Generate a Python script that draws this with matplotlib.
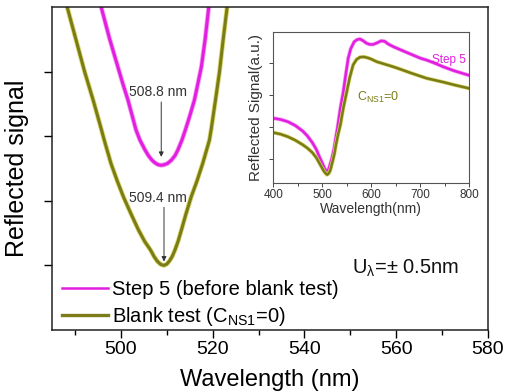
import matplotlib
matplotlib.use("Agg")
import matplotlib.pyplot as plt
import matplotlib.patheffects as pe
from matplotlib.ticker import MultipleLocator, NullFormatter
from matplotlib.lines import Line2D

plt.rcParams['font.family'] = ['Liberation Sans', 'DejaVu Sans']
plt.rcParams['mathtext.fontset'] = 'custom'
plt.rcParams['mathtext.rm'] = 'Liberation Sans'
plt.rcParams['mathtext.it'] = 'Liberation Sans:italic'
plt.rcParams['mathtext.bf'] = 'Liberation Sans:bold'

# ---- main panel data (zoom on resonance dip) ----
step5_wl = [495.2, 495.71, 497.5, 499.32, 500.4, 501.55, 502.5, 503.29, 504.16, 505.25, 506.0,
            506.78, 507.4, 508.1, 508.8, 509.5, 510.2, 511.02, 511.8, 512.44, 513.31, 514.07,
            515.0, 516.03, 516.8, 517.56, 518.4, 519.15, 519.6]
step5_sig = [5.25, 5.00, 4.52, 4.08, 3.82, 3.56, 3.31, 3.10, 2.94, 2.79, 2.70,
             2.63, 2.59, 2.56, 2.55, 2.56, 2.58, 2.63, 2.70, 2.79, 2.94, 3.10,
             3.31, 3.56, 3.82, 4.08, 4.52, 5.00, 5.25]

blank_wl = [487.5, 488.30, 490.2, 492.1, 494.0, 495.77, 496.38, 497.84, 499.2, 500.57, 502.2,
            503.83, 505.2, 506.45, 507.3, 508.0, 508.7, 509.4, 510.0, 510.6, 511.2, 511.8,
            512.5, 513.2, 514.2, 515.32, 516.6, 517.84, 519.30, 519.67, 520.6, 521.5, 522.3,
            523.16, 523.7]
blank_sig = [5.25, 5.00, 4.50, 4.00, 3.55, 3.10, 2.94, 2.58, 2.31, 2.06, 1.80,
             1.55, 1.37, 1.24, 1.13, 1.06, 1.015, 1.00, 1.02, 1.07, 1.14, 1.24,
             1.38, 1.55, 1.80, 2.06, 2.31, 2.58, 2.94, 3.10, 3.55, 4.00, 4.50,
             5.00, 5.25]

# ---- inset data (full spectrum) ----
inset_step5_wl = [400, 415, 430, 445, 460, 470, 480, 488, 495, 500, 505, 509, 513, 517, 520,
                  524, 527, 532, 537, 543, 548, 553, 558, 565, 571, 577, 583, 590, 597, 604,
                  612, 620, 627, 635, 645, 660, 680, 700, 713, 730, 747, 770, 798, 800]
inset_step5_sig = [2.28, 2.24, 2.17, 2.05, 1.88, 1.72, 1.51, 1.30, 1.04, 0.88, 0.70, 0.61,
                   0.68, 0.88, 1.04, 1.32, 1.60, 2.07, 2.60, 3.11, 3.65, 4.16, 4.45, 4.67,
                   4.74, 4.76, 4.71, 4.63, 4.59, 4.59, 4.64, 4.70, 4.69, 4.60, 4.52, 4.42,
                   4.29, 4.16, 4.10, 4.00, 3.89, 3.76, 3.63, 3.62]
inset_blank_wl = [400, 415, 430, 445, 460, 470, 480, 488, 495, 503, 507, 510, 513, 516, 521,
                  525, 528, 532, 537, 543, 550, 556, 563, 570, 577, 585, 593, 600, 611, 628,
                  645, 662, 680, 713, 747, 770, 798, 800]
inset_blank_sig = [1.83, 1.78, 1.70, 1.59, 1.45, 1.34, 1.20, 1.04, 0.85, 0.63, 0.55, 0.51,
                   0.55, 0.63, 0.92, 1.18, 1.45, 1.75, 2.07, 2.60, 3.11, 3.55, 3.95, 4.12,
                   4.19, 4.20, 4.17, 4.13, 4.05, 3.97, 3.89, 3.80, 3.70, 3.53, 3.41, 3.32,
                   3.22, 3.21]

peak_labels = ["508.8 nm", "509.4 nm"]
peak_pos = [508.8, 509.4]
legend_labels = ["Step 5 (before blank test)", "Blank test (C$_{\\mathrm{NS1}}$=0)"]

MAG = '#e21ee0'
OLV = '#7b7b18'
MAG_GLOW = '#f59cf0'
OLV_GLOW = '#d8d86a'

fig = plt.figure(figsize=(5.06, 3.91), dpi=100)
ax = fig.add_axes([0.1028, 0.156, 0.8616, 0.826])

ax.plot(step5_wl, step5_sig, color=MAG, lw=2.2, solid_joinstyle='round',
        path_effects=[pe.Stroke(linewidth=3.4, foreground=MAG_GLOW), pe.Normal()])
ax.plot(blank_wl, blank_sig, color=OLV, lw=2.2, solid_joinstyle='round',
        path_effects=[pe.Stroke(linewidth=3.4, foreground=OLV_GLOW), pe.Normal()])

ax.set_xlim(485, 580)
ax.set_ylim(0, 5)
ax.xaxis.set_major_locator(MultipleLocator(20))
ax.xaxis.set_minor_locator(MultipleLocator(10))
ax.set_yticks([1, 2, 3, 4])
ax.yaxis.set_major_formatter(NullFormatter())
ax.tick_params(axis='both', which='major', direction='out', length=6, width=1, labelsize=14)
ax.tick_params(axis='x', which='minor', direction='out', length=3.5, width=1)
ax.tick_params(axis='x', pad=2)
for s in ax.spines.values():
    s.set_linewidth(1.1)
    s.set_color('#222222')
ax.set_xlabel("Wavelength (nm)", fontsize=17, labelpad=8)
ax.set_ylabel("Reflected signal", fontsize=18, labelpad=7)

# peak annotations
ax.text(peak_pos[0] - 0.8, 3.68, peak_labels[0], fontsize=10, color='#333333',
        ha='center', va='center')
ax.annotate('', xy=(peak_pos[0], 2.68), xytext=(peak_pos[0], 3.53),
            arrowprops=dict(arrowstyle='-|>', color='#333333', lw=0.7,
                            mutation_scale=7, shrinkA=0, shrinkB=0))
ax.text(peak_pos[1] - 1.4, 2.04, peak_labels[1], fontsize=10, color='#333333',
        ha='center', va='center')
ax.annotate('', xy=(peak_pos[1], 1.06), xytext=(peak_pos[1], 1.90),
            arrowprops=dict(arrowstyle='-|>', color='#333333', lw=0.7,
                            mutation_scale=7, shrinkA=0, shrinkB=0))

ax.text(0.688, 0.192, "U$_{\\mathrm{λ}}$=± 0.5nm", transform=ax.transAxes,
        fontsize=14.5, color='#111111', va='center', ha='left')

handles = [Line2D([], [], color=MAG, lw=1.8), Line2D([], [], color=OLV, lw=2.4)]
leg = ax.legend(handles, legend_labels, loc='lower left', bbox_to_anchor=(-0.005, -0.032),
                frameon=False, fontsize=14.5, handlelength=2.3, handletextpad=0.2,
                labelspacing=0.3, borderaxespad=0.2)

# ---- inset ----
ax2 = fig.add_axes([0.540, 0.5327, 0.3874, 0.3847])
ax2.plot(inset_step5_wl, inset_step5_sig, color=MAG, lw=1.8, solid_joinstyle='round',
         path_effects=[pe.Stroke(linewidth=2.8, foreground=MAG_GLOW), pe.Normal()])
ax2.plot(inset_blank_wl, inset_blank_sig, color=OLV, lw=1.8, solid_joinstyle='round',
         path_effects=[pe.Stroke(linewidth=2.8, foreground=OLV_GLOW), pe.Normal()])
ax2.set_xlim(400, 800)
ax2.set_ylim(0.26, 4.97)
ax2.xaxis.set_major_locator(MultipleLocator(100))
ax2.xaxis.set_minor_locator(MultipleLocator(50))
ax2.set_yticks([1, 2, 3, 4])
ax2.yaxis.set_major_formatter(NullFormatter())
ax2.tick_params(axis='both', which='major', direction='out', length=3, width=0.7,
                labelsize=8.5, colors='#444444', labelcolor='#333333', pad=1.5)
ax2.tick_params(axis='x', which='minor', direction='out', length=2, width=0.7, colors='#444444')
for s in ax2.spines.values():
    s.set_linewidth(0.8)
    s.set_color('#555555')
ax2.set_xlabel("Wavelength(nm)", fontsize=10, color='#333333', labelpad=1)
ax2.set_ylabel("Reflected Signal(a.u.)", fontsize=11, color='#333333', labelpad=3)
ax2.text(758, 4.10, "Step 5", fontsize=8.5, color=MAG, ha='center', va='center')
ax2.text(614, 2.92, "C$_{\\mathrm{NS1}}$=0", fontsize=9, color=OLV, ha='center', va='center')

fig.savefig("out.png", dpi=100)
